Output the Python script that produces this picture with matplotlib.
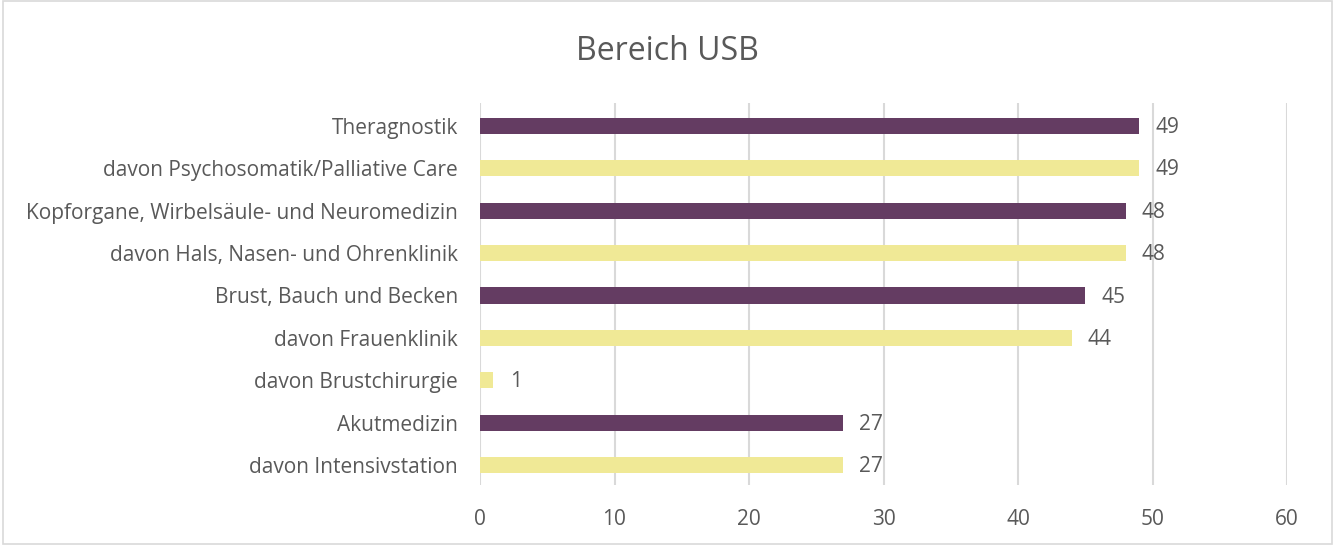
import matplotlib.pyplot as plt
from matplotlib.patches import Rectangle

categories = ["davon Intensivstation", "Akutmedizin", "davon Brustchirurgie",
              "davon Frauenklinik", "Brust, Bauch und Becken",
              "davon Hals, Nasen- und Ohrenklinik",
              "Kopforgane, Wirbelsäule- und Neuromedizin",
              "davon Psychosomatik/Palliative Care", "Theragnostik"]
values = [27, 27, 1, 44, 45, 48, 48, 49, 49]
is_sub = [True, False, True, True, False, True, False, True, False]

purple = "#643c62"
yellow = "#f0e996"
txt = "#595959"

plt.rcParams['font.family'] = ['Open Sans', 'DejaVu Sans']

fig = plt.figure(figsize=(13.35, 5.45), dpi=100)
ax = fig.add_axes([480 / 1335, 1 - 485 / 545, (1287 - 480) / 1335, (485 - 103) / 545])

colors = [yellow if s else purple for s in is_sub]
y = range(len(categories))
ax.barh(y, values, height=0.38, color=colors, zorder=3)
for i, v in enumerate(values):
    ax.text(v + 1.2, i - 0.04, str(v), va='center', ha='left', fontsize=15, color=txt)

ax.set_xlim(0, 60)
ax.set_ylim(-0.47, 8.54)
ax.set_xticks(range(0, 61, 10))
ax.set_yticks(list(y))
ax.set_yticklabels(categories)
ax.tick_params(axis='both', length=0, labelsize=15, labelcolor=txt)
ax.tick_params(axis='x', pad=17)
ax.tick_params(axis='y', pad=16)
ax.grid(axis='x', color='#d9d9d9', linewidth=1.5, zorder=0)
for s in ax.spines.values():
    s.set_visible(False)

fig.text(0.5, 1 - 52 / 545, "Bereich USB", ha='center', va='center', fontsize=23, color=txt)
fig.patches.append(Rectangle((0.002, 0.002), 0.996, 0.996, transform=fig.transFigure,
                             fill=False, edgecolor='#d9d9d9', linewidth=1.2))

fig.savefig("out.png", dpi=100)
